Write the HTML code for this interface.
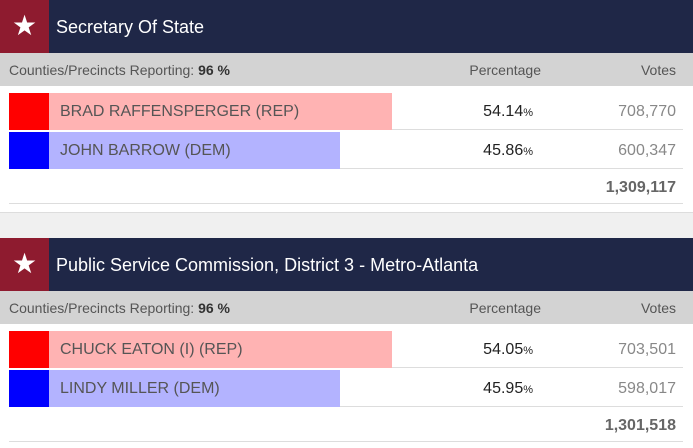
<!DOCTYPE html>
<html><head><meta charset="utf-8"><style>
*{margin:0;padding:0;box-sizing:border-box}
body{width:693px;height:448px;overflow:hidden;background:#fff;font-family:"Liberation Sans",sans-serif;position:relative}
.sec{position:absolute;left:0;width:693px}
.hdr{position:absolute;left:0;top:0;width:693px;height:53px;background:#1f2747}
.star{position:absolute;left:0;top:0;width:49px;height:53px;background:#8e1b2f;color:#fff;font-size:28px;text-align:center;line-height:52px}
.title{position:absolute;left:56px;top:0;line-height:54px;color:#fff;font-size:18px}
.sub{position:absolute;left:0;top:53px;width:693px;height:33px;background:#d3d3d3;color:#555;font-size:14px;line-height:34px}
.sub .l{position:absolute;left:9px}
.sub .p{position:absolute;right:152px}
.sub .v{position:absolute;right:17px}
.row{position:absolute;left:9px;width:674px;height:38px;border-bottom:1px solid #ddd}
.sw{position:absolute;left:0;top:1px;width:40px;height:37px}
.bar{position:absolute;left:40px;top:1px;height:37px}
.nm{position:absolute;left:51px;top:0;line-height:40px;font-size:16px;color:#555}
.pc{position:absolute;right:150px;top:0;line-height:40px;font-size:16px;color:#222}
.pc small{font-size:11px}
.vt{position:absolute;right:7px;top:0;line-height:40px;font-size:16px;color:#888}
.tot{position:absolute;left:9px;width:674px;height:33px;border-bottom:1px solid #ddd}
.tot span{position:absolute;right:7px;line-height:34px;font-size:16px;font-weight:bold;color:#666}
.gap{position:absolute;left:0;top:212px;width:693px;height:26px;background:#f0f0f0;border-top:1px solid #ddd}
</style></head><body>
<div class="gap"></div>
<div id="root"></div>
<script>
const titles=["Secretary Of State","Public Service Commission, District 3 - Metro-Atlanta"];
const candidates=[["BRAD RAFFENSPERGER (REP)","JOHN BARROW (DEM)"],["CHUCK EATON (I) (REP)","LINDY MILLER (DEM)"]];
const percents=[[54.14,45.86],[54.05,45.95]];
const votes=[["708,770","600,347"],["703,501","598,017"]];
const totals=["1,309,117","1,301,518"];
const reporting=["96 %","96 %"];
const swatch=["#ff0000","#0000ff"],barc=["#ffb3b3","#b3b3ff"];
const track=634;
const offs=[0,238];
const root=document.getElementById('root');
titles.forEach((t,i)=>{
  const s=document.createElement('div');s.className='sec';s.style.top=offs[i]+'px';
  
  
  let h=`<div class="hdr"><div class="star">★</div><div class="title">${t}</div></div>
<div class="sub"><span class="l">Counties/Precincts Reporting: <b style="color:#333">${reporting[i]}</b></span><span class="p">Percentage</span><span class="v">Votes</span></div>`;
  candidates[i].forEach((c,j)=>{
    const top=92+j*39;
    h+=`<div class="row" style="top:${top}px"><div class="sw" style="background:${swatch[j]}"></div><div class="bar" style="width:${percents[i][j]/100*track}px;background:${barc[j]}"></div><span class="nm">${c}</span><span class="pc">${percents[i][j].toFixed(2)}<small>%</small></span><span class="vt">${votes[i][j]}</span></div>`;
  });
  h+=`<div class="tot" style="top:171px"><span>${totals[i]}</span></div>`;
  s.innerHTML=h;root.appendChild(s);
});
</script>
</body></html>
